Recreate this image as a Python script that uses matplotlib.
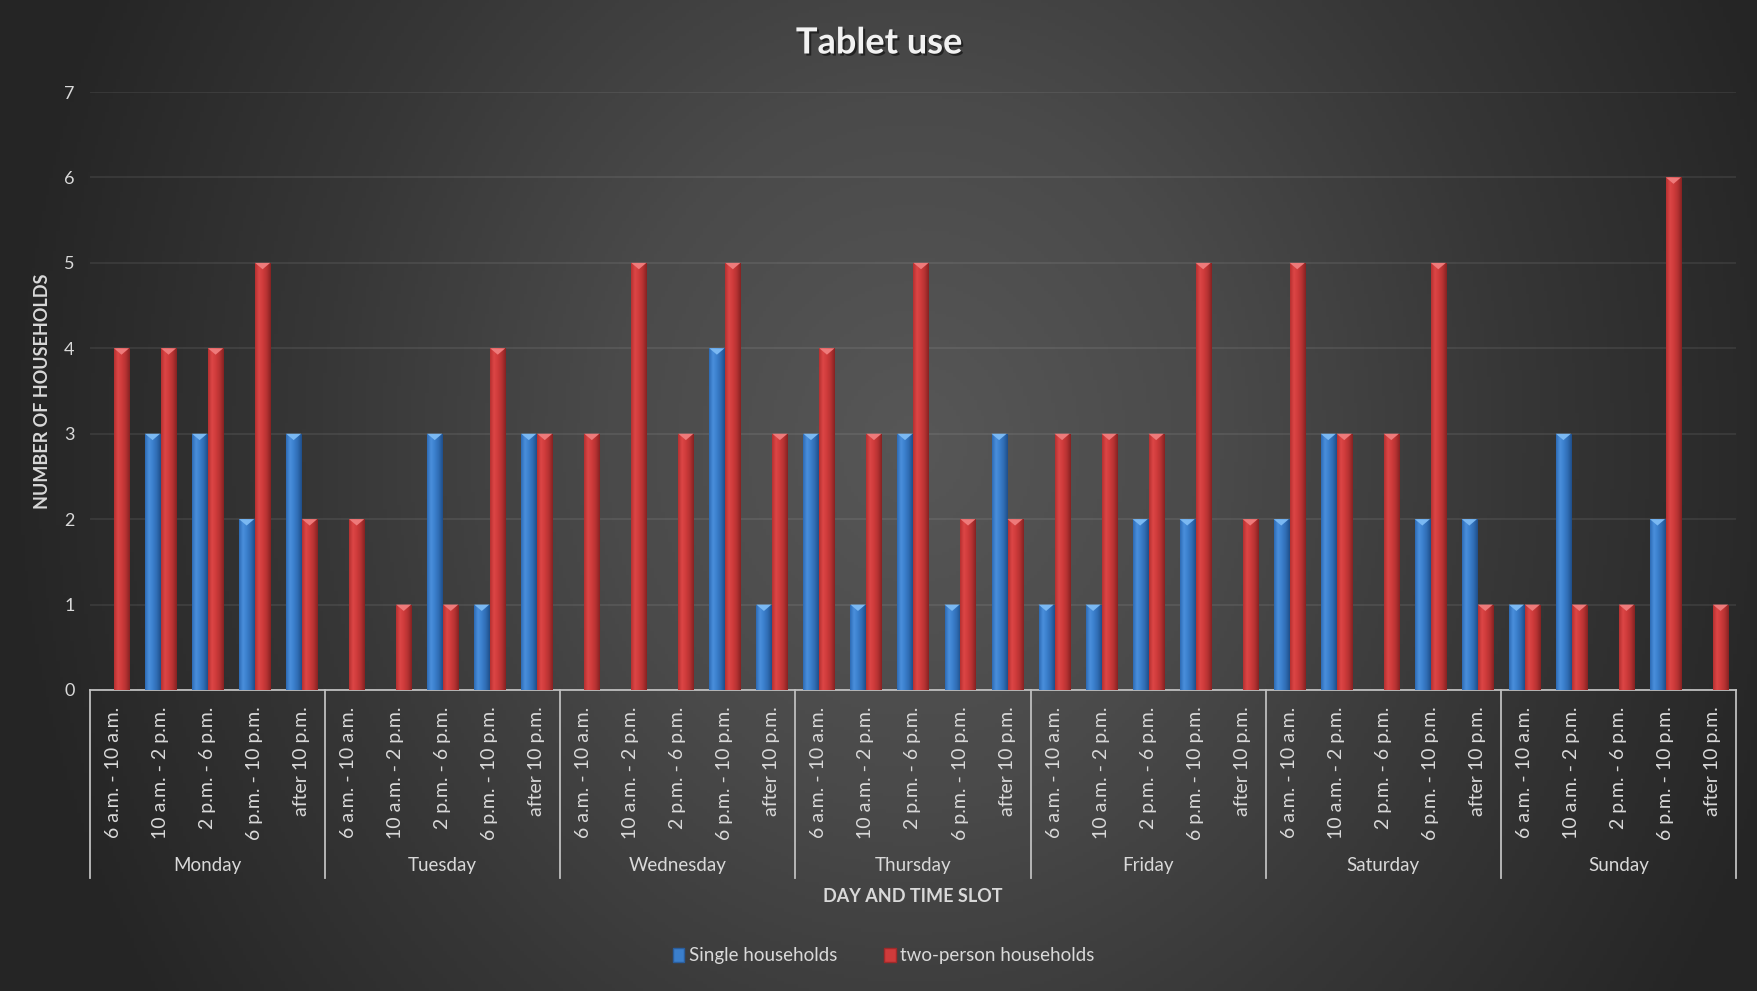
import numpy as np
import matplotlib
matplotlib.use("Agg")
import matplotlib.pyplot as plt
from matplotlib.colors import LinearSegmentedColormap
from matplotlib.patches import Polygon, Patch
from matplotlib.transforms import blended_transform_factory
import matplotlib.patheffects as pe

plt.rcParams['font.family'] = ['Lato', 'DejaVu Sans']

# data
days = ["Monday", "Tuesday", "Wednesday", "Thursday", "Friday", "Saturday", "Sunday"]
slots = ["6 a.m. - 10 a.m.", "10 a.m. - 2 p.m.", "2 p.m. - 6 p.m.", "6 p.m. - 10 p.m.", "after 10 p.m."]
single = [0, 3, 3, 2, 3,
          0, 0, 3, 1, 3,
          0, 0, 0, 4, 1,
          3, 1, 3, 1, 3,
          1, 1, 2, 2, 0,
          2, 3, 0, 2, 2,
          1, 3, 0, 2, 0]
two_person = [4, 4, 4, 5, 2,
              2, 1, 1, 4, 3,
              3, 5, 3, 5, 3,
              4, 3, 5, 2, 2,
              3, 3, 3, 5, 2,
              5, 3, 3, 5, 1,
              1, 1, 1, 6, 1]

txt = '#d9d9d9'
W, H = 1758, 991
fig = plt.figure(figsize=(W / 100, H / 100), dpi=100)

# background: light centre, dark left/right edges
bg = fig.add_axes([0, 0, 1, 1], zorder=-10)
yy, xx = np.mgrid[0:1:300j, 0:1:500j]
r = np.sqrt(((xx - 0.52) / 0.52) ** 2 + ((yy - 0.55) / 1.05) ** 2)
r = np.clip(r, 0, 1)
bg_cmap = LinearSegmentedColormap.from_list('bg', ['#575757', '#4a4a4a', '#363636', '#252525'])
bg.imshow(r, cmap=bg_cmap, extent=[0, 1, 0, 1], aspect='auto', origin='lower')
bg.axis('off')

ax = fig.add_axes([90 / W, 1 - 690 / H, (1736 - 90) / W, (690 - 92) / H])
ax.set_facecolor('none')

n = len(single)
x = np.arange(n)
bw = 0.32
off = 0.17

blue_cmap = LinearSegmentedColormap.from_list('b', ['#2d6bb5', '#4a8fdc', '#3b7fcc', '#2f6cb3', '#1f4f8a'])
red_cmap = LinearSegmentedColormap.from_list('r', ['#b63030', '#dc4646', '#cf3b3b', '#b53232', '#862222'])
grad = np.linspace(0, 1, 64).reshape(1, -1)

def bevel_bars(bars, cmap, top_col):
    for b in bars:
        h = b.get_height()
        if h <= 0:
            continue
        x0, w = b.get_x(), b.get_width()
        im = ax.imshow(grad, cmap=cmap, extent=[x0, x0 + w, 0, h], aspect='auto', zorder=3)
        im.set_clip_path(b)
        tri = Polygon([[x0, h], [x0 + w, h], [x0 + w / 2, h - 0.075]], closed=True,
                      facecolor=top_col, edgecolor='none', zorder=4)
        ax.add_patch(tri)

b1 = ax.bar(x - off, single, bw, color='#3b7fcc', zorder=2, linewidth=0)
b2 = ax.bar(x + off, two_person, bw, color='#cf3b3b', zorder=2, linewidth=0)
bevel_bars(b1, blue_cmap, '#7ab8f2')
bevel_bars(b2, red_cmap, '#ee7a7a')

ax.set_xlim(-0.5, n - 0.5)
ax.set_ylim(0, 7)
ax.set_yticks(range(0, 8))
ax.yaxis.grid(True, color='white', alpha=0.09, linewidth=1.2)
ax.set_axisbelow(True)
for s in ['top', 'right', 'left']:
    ax.spines[s].set_visible(False)
ax.spines['bottom'].set_color('#bfbfbf')
ax.spines['bottom'].set_linewidth(1.3)
ax.tick_params(axis='y', length=0, labelsize=13, labelcolor=txt, pad=11)
ax.set_xticks(x, slots * len(days), rotation=90, va='top', ha='center')
ax.tick_params(axis='x', length=0, labelsize=14, labelcolor=txt, pad=12)

# multi-level category axis
tr = blended_transform_factory(ax.transData, fig.transFigure)
k = len(slots)
for i in range(len(days) + 1):
    xb = i * k - 0.5
    ax.plot([xb, xb], [1 - 690 / H, 1 - 878 / H], transform=tr, color='#bfbfbf',
            linewidth=1.3, clip_on=False)
for i, d in enumerate(days):
    ax.text(i * k + (k - 1) / 2, 1 - 866 / H, d, transform=tr, ha='center', va='center',
            fontsize=13.5, color=txt)

fig.text(0.5 * (90 + 1736) / W, 1 - 897 / H, "DAY AND TIME SLOT", ha='center', va='center',
         fontsize=13, fontweight='bold', color=txt)
fig.text(43 / W, 1 - 391 / H, "NUMBER OF HOUSEHOLDS", ha='center', va='center', rotation=90,
         fontsize=13, fontweight='bold', color=txt)
fig.text(0.5, 1 - 43 / H, "Tablet use", ha='center', va='center',
         fontsize=26, fontweight='bold', color='#f2f2f2',
         path_effects=[pe.withSimplePatchShadow(offset=(1.5, -1.5), shadow_rgbFace='black', alpha=0.5)])

handles = [Patch(facecolor='#3b7fcc', edgecolor='#2a5e9e', label='Single households'),
           Patch(facecolor='#cf3b3b', edgecolor='#a02a2a', label='two-person households')]
fig.legend(handles=handles, loc='center', bbox_to_anchor=(884 / W, 1 - 956 / H), ncol=2,
           frameon=False, fontsize=13.5, labelcolor=txt, handlelength=0.6, handleheight=0.8,
           handletextpad=0.25, columnspacing=2.5)

fig.savefig('out.png', dpi=100)
